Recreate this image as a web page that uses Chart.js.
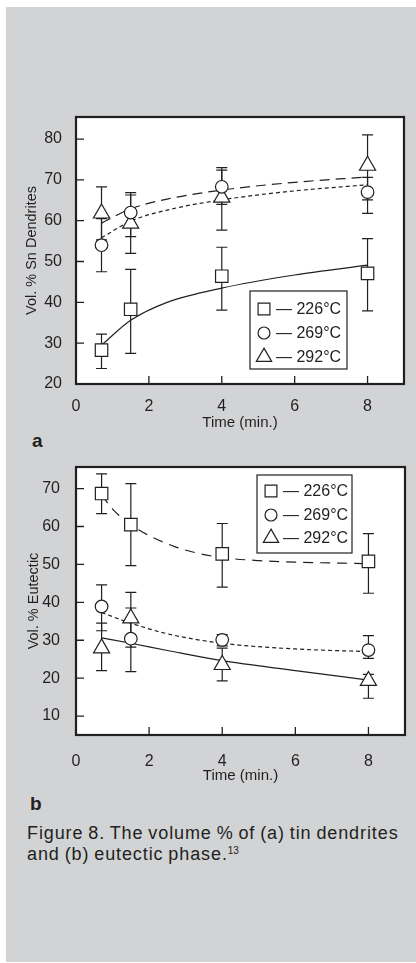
<!doctype html>
<html>
<head>
<meta charset="utf-8">
<title>Figure 8</title>
<script src="https://cdn.jsdelivr.net/npm/chart.js@4.4.0/dist/chart.umd.min.js"></script>
<style>
    html, body { margin: 0; padding: 0; background: #fff; }
    body { width: 416px; height: 963px; position: relative; overflow: hidden;
           font-family: "Liberation Sans", Arial, sans-serif; color: #231f20; }
    .panel { position: absolute; left: 6px; top: 7px; width: 410px; height: 955px; background: #d1d3d4; }
    canvas { position: absolute; left: 6px; }
    #chartA { top: 100px; }
    #chartB { top: 440px; }
    .tag { position: absolute; font-weight: bold; font-size: 19px; line-height: 19px; }
    .caption { position: absolute; left: 27px; top: 823px; font-size: 18px; line-height: 20.5px;
               letter-spacing: 0.9px; word-spacing: -1px; white-space: nowrap; }
    .caption sup { font-size: 10px; vertical-align: 6px; line-height: 0; letter-spacing: 0; }
</style>
</head>
<body>
<div class="panel"></div>
<canvas id="chartA" width="410" height="330"></canvas>
<div class="tag" style="left:32px; top:431px;">a</div>
<canvas id="chartB" width="410" height="350"></canvas>
<div class="tag" style="left:30px; top:794px;">b</div>
<div class="caption">Figure 8. The volume % of (a) tin dendrites<br>and (b) eutectic phase.<sup>13</sup></div>

<script>
    // ---- data (a) volume % Sn dendrites ----
    var xTicks = [0, 2, 4, 6, 8];
    var times = [0.7, 1.5, 4, 8];
    var seriesNames = ['— 226°C', '— 269°C', '— 292°C'];

    var yTicksA = [20, 30, 40, 50, 60, 70, 80];
    var dend226 = [28.3, 38.3, 46.4, 47.1];
    var dend226Lo = [23.8, 27.5, 38.1, 37.9];
    var dend226Hi = [32.2, 48.1, 53.5, 55.6];
    var dend269 = [54.0, 62.0, 68.3, 67.0];
    var dend269Lo = [47.5, 56.1, 64.0, 61.8];
    var dend269Hi = [60.5, 66.9, 73.0, 70.6];
    var dend292 = [61.8, 59.3, 65.7, 73.5];
    var dend292Lo = [55.3, 52.0, 57.7, 65.1];
    var dend292Hi = [68.3, 66.3, 72.4, 81.0];

    // fitted curves
    var fitTimesA = [0.7, 1.5, 2.5, 4, 6, 8];
    var dendFit226 = [29.5, 35.6, 40.0, 43.5, 46.7, 49.1];
    var dendFit269 = [55.8, 59.9, 62.6, 65.1, 67.3, 68.8];
    var dendFit292 = [59.4, 62.9, 65.3, 67.5, 69.4, 70.7];

    // ---- data (b) volume % eutectic ----
    var yTicksB = [10, 20, 30, 40, 50, 60, 70];
    var eut226 = [68.7, 60.5, 52.8, 50.8];
    var eut226Lo = [63.4, 49.7, 44.0, 42.4];
    var eut226Hi = [73.9, 71.3, 60.8, 58.1];
    var eut269 = [38.9, 30.4, 30.1, 27.4];
    var eut269Lo = [32.5, 21.7, 28.5, 25.2];
    var eut269Hi = [44.6, 38.5, 31.5, 31.2];
    var eut292 = [27.9, 35.8, 23.5, 19.3];
    var eut292Lo = [22.0, 28.2, 19.3, 14.7];
    var eut292Hi = [34.5, 42.6, 27.9, 21.0];

    var fitTimes226B = [0.7, 1.0, 1.5, 2.0, 2.7, 3.4, 4, 5, 6, 8];
    var eutFit226 = [68.3, 64.6, 60.5, 57.6, 54.7, 52.8, 51.8, 51.0, 50.6, 50.2];
    var fitTimesB = [0.7, 1.5, 2.5, 4, 6, 8];
    var eutFit269 = [37.3, 34.5, 31.7, 29.2, 27.7, 27.0];
    var eutFit292 = [30.6, 29.2, 27.3, 24.6, 22.0, 19.5];

    var ink = '#231f20';
    var styles = ['rect', 'circle', 'triangle'];
    var radii = [8.8, 6.3, 9.3];

    Chart.defaults.font.family = '"Liberation Sans", Arial, sans-serif';
    Chart.defaults.color = ink;

    function pts(xs, ys) {
        return xs.map(function (x, i) { return { x: x, y: ys[i] }; });
    }

    function markerSet(ys, k) {
        return {
            data: pts(times, ys),
            showLine: false,
            pointStyle: styles[k],
            pointRadius: radii[k],
            pointHoverRadius: radii[k],
            pointBackgroundColor: '#fff',
            pointBorderColor: ink,
            pointBorderWidth: 1.2,
            order: 0
        };
    }

    function fitSet(xs, ys, dash) {
        return {
            data: pts(xs, ys),
            showLine: true,
            pointRadius: 0,
            borderColor: ink,
            borderWidth: 1.2,
            borderDash: dash,
            cubicInterpolationMode: 'monotone',
            fill: false,
            order: 1
        };
    }

    function drawMarker(ctx, style, r, x, y) {
        ctx.fillStyle = '#fff';
        ctx.strokeStyle = ink;
        ctx.lineWidth = 1.2;
        Chart.helpers.drawPoint(ctx, { pointStyle: style, radius: r, rotation: 0, borderWidth: 1.2 }, x, y);
    }

    // white plot, error bars, frame with inward ticks, boxed legend
    var figPlugin = {
        id: 'fig',
        beforeDraw: function (chart) {
            var a = chart.chartArea, ctx = chart.ctx;
            ctx.save();
            ctx.fillStyle = '#fff';
            ctx.fillRect(a.left, a.top, a.right - a.left, a.bottom - a.top);
            ctx.restore();
        },
        beforeDatasetsDraw: function (chart, args, opts) {
            var ctx = chart.ctx, xs = chart.scales.x, ys = chart.scales.y;
            ctx.save();
            ctx.strokeStyle = ink;
            ctx.lineWidth = 1.2;
            opts.bars.forEach(function (b) {
                times.forEach(function (t, i) {
                    var px = xs.getPixelForValue(t);
                    var y0 = ys.getPixelForValue(b.lo[i]);
                    var y1 = ys.getPixelForValue(b.hi[i]);
                    ctx.beginPath();
                    ctx.moveTo(px, y0); ctx.lineTo(px, y1);
                    ctx.moveTo(px - 5.5, y0); ctx.lineTo(px + 5.5, y0);
                    ctx.moveTo(px - 5.5, y1); ctx.lineTo(px + 5.5, y1);
                    ctx.stroke();
                });
            });
            ctx.restore();
        },
        afterDraw: function (chart, args, opts) {
            var ctx = chart.ctx, a = chart.chartArea;
            var xs = chart.scales.x, ys = chart.scales.y;
            ctx.save();
            ctx.strokeStyle = ink;
            ctx.lineWidth = 1.3;
            ctx.beginPath();
            xs.ticks.forEach(function (t) {
                var px = xs.getPixelForValue(t.value);
                ctx.moveTo(px, a.bottom); ctx.lineTo(px, a.bottom - 8);
            });
            ys.ticks.forEach(function (t) {
                var py = ys.getPixelForValue(t.value);
                ctx.moveTo(a.left, py); ctx.lineTo(a.left + 8, py);
            });
            ctx.stroke();
            ctx.lineWidth = 2.2;
            ctx.strokeRect(a.left, a.top, a.right - a.left, a.bottom - a.top);

            // legend box
            var L = opts.legend;
            var bx = a.left + L.x, by = a.top + L.y;
            ctx.lineWidth = 1.2;
            ctx.fillStyle = '#fff';
            ctx.fillRect(bx, by, L.w, L.h);
            ctx.strokeRect(bx, by, L.w, L.h);
            ctx.font = '16px "Liberation Sans", Arial, sans-serif';
            ctx.textBaseline = 'middle';
            seriesNames.forEach(function (name, k) {
                var ry = by + L.rows[k];
                drawMarker(ctx, styles[k], radii[k] * 0.95, bx + 14, ry);
                ctx.fillStyle = ink;
                ctx.fillText(name, bx + 26, ry + 1);
            });
            ctx.restore();
        }
    };

    function axisY(ticksArr, min, max, title, width, tpad, labelPad) {
        return {
            type: 'linear', min: min, max: max,
            grid: { display: false }, border: { display: false },
            ticks: { font: { size: 16 }, padding: labelPad, color: ink },
            afterBuildTicks: function (s) { s.ticks = ticksArr.map(function (v) { return { value: v }; }); },
            afterFit: function (s) { s.width = width; },
            title: { display: true, text: title, color: ink, font: { size: 14.5, lineHeight: 1 }, padding: { top: tpad, bottom: 0 } }
        };
    }

    function axisX(height, labelPad, tpad) {
        return {
            type: 'linear', min: 0, max: 9,
            grid: { display: false }, border: { display: false },
            ticks: { font: { size: 16 }, padding: labelPad, color: ink, maxRotation: 0 },
            afterBuildTicks: function (s) { s.ticks = xTicks.map(function (v) { return { value: v }; }); },
            afterFit: function (s) { s.height = height; },
            title: { display: true, text: 'Time (min.)', color: ink, font: { size: 15, lineHeight: 1 }, padding: { top: 0, bottom: tpad } }
        };
    }

    var chartA = new Chart(document.getElementById('chartA'), {
        type: 'scatter',
        data: {
            datasets: [
                fitSet(fitTimesA, dendFit226, []),
                fitSet(fitTimesA, dendFit269, [4, 3]),
                fitSet(fitTimesA, dendFit292, [10, 6]),
                markerSet(dend226, 0),
                markerSet(dend269, 1),
                markerSet(dend292, 2)
            ]
        },
        options: {
            responsive: false,
            devicePixelRatio: 1,
            animation: false,
            layout: { padding: { top: 17, right: 12, left: 0, bottom: 0 } },
            scales: {
                x: axisX(46, 5, 0),
                y: axisY(yTicksA, 20, 85.4, 'Vol. % Sn Dendrites', 70, 19, 6)
            },
            plugins: {
                legend: { display: false },
                tooltip: { enabled: false },
                fig: {
                    bars: [
                        { lo: dend226Lo, hi: dend226Hi },
                        { lo: dend269Lo, hi: dend269Hi },
                        { lo: dend292Lo, hi: dend292Hi }
                    ],
                    legend: { x: 174, y: 174, w: 97, h: 78, rows: [18, 42, 66] }
                }
            }
        },
        plugins: [figPlugin]
    });

    var chartB = new Chart(document.getElementById('chartB'), {
        type: 'scatter',
        data: {
            datasets: [
                fitSet(fitTimes226B, eutFit226, [10, 7]),
                fitSet(fitTimesB, eutFit269, [4, 3]),
                fitSet(fitTimesB, eutFit292, []),
                markerSet(eut226, 0),
                markerSet(eut269, 1),
                markerSet(eut292, 2)
            ]
        },
        options: {
            responsive: false,
            devicePixelRatio: 1,
            animation: false,
            layout: { padding: { top: 27, right: 11, left: 0, bottom: 0 } },
            scales: {
                x: axisX(55, 8.5, 7),
                y: axisY(yTicksB, 5, 75.7, 'Vol. % Eutectic', 70, 21, 8)
            },
            plugins: {
                legend: { display: false },
                tooltip: { enabled: false },
                fig: {
                    bars: [
                        { lo: eut226Lo, hi: eut226Hi },
                        { lo: eut269Lo, hi: eut269Hi },
                        { lo: eut292Lo, hi: eut292Hi }
                    ],
                    legend: { x: 181, y: 8, w: 95, h: 78, rows: [16, 40, 63] }
                }
            }
        },
        plugins: [figPlugin]
    });
</script>
</body>
</html>
